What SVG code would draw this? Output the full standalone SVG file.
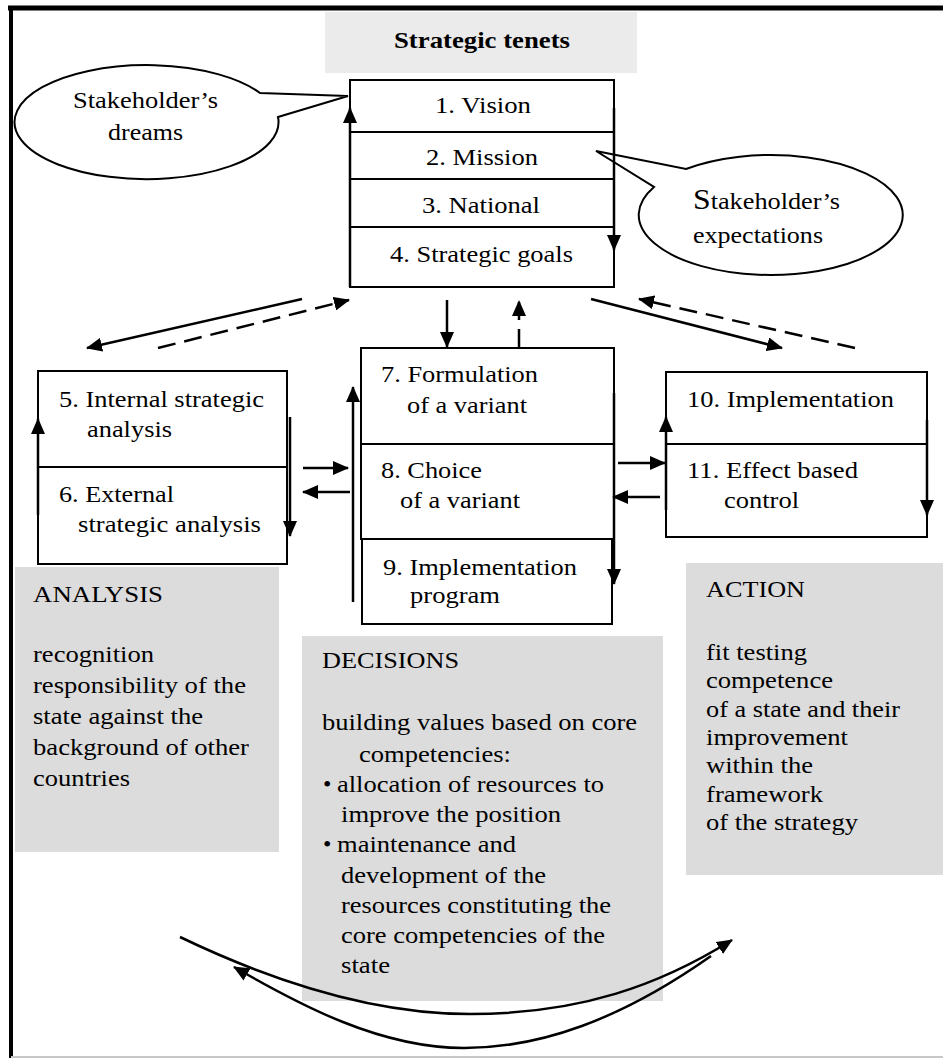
<svg xmlns="http://www.w3.org/2000/svg" width="943" height="1059" viewBox="0 0 943 1059">
<style>
.box{fill:#fff;stroke:#000;stroke-width:2}
.gray{fill:#dcdcdc}
.t{font-family:'Liberation Serif','Times New Roman',serif;font-size:24px;fill:#000}
.b{font-weight:bold;font-size:23px}
.c{fill:none;stroke:#000;stroke-width:2.5}
.d{stroke-dasharray:18 9}
.bubble{fill:#fff;stroke:#000;stroke-width:2}
.ln{stroke:#000;stroke-width:2}
</style>
<defs>
<marker id="ah" markerUnits="userSpaceOnUse" markerWidth="16" markerHeight="14" refX="15" refY="7" orient="auto">
<path d="M0,0 L16,7 L0,14 Z" fill="#000"/>
</marker>
</defs>
<rect width="943" height="1059" fill="#fff"/>
<g id="frame">
<line x1="8" y1="8" x2="943" y2="8" stroke="#000" stroke-width="5"/>
<line x1="11" y1="6" x2="11" y2="1058" stroke="#000" stroke-width="4"/>
<line x1="11" y1="1057" x2="943" y2="1057" stroke="#c8c8c8" stroke-width="2"/>
</g>
<g id="title">
<rect x="325" y="12" width="312" height="61" fill="#ebebeb"/>
<text class="t b" x="394" y="48" textLength="176" lengthAdjust="spacingAndGlyphs">Strategic tenets</text>
</g>
<g id="analysis">
<rect class="gray" x="15" y="567" width="264" height="285"/>
<text class="t" x="33" y="602" textLength="130" lengthAdjust="spacingAndGlyphs">ANALYSIS</text>
<text class="t" x="33" y="662" textLength="121" lengthAdjust="spacingAndGlyphs">recognition</text>
<text class="t" x="33" y="693" textLength="213" lengthAdjust="spacingAndGlyphs">responsibility of the</text>
<text class="t" x="33" y="724" textLength="170" lengthAdjust="spacingAndGlyphs">state against the</text>
<text class="t" x="33" y="755" textLength="216" lengthAdjust="spacingAndGlyphs">background of other</text>
<text class="t" x="33" y="786" textLength="97" lengthAdjust="spacingAndGlyphs">countries</text>
</g>
<g id="decisions">
<rect class="gray" x="302" y="636" width="361" height="365"/>
<text class="t" x="322" y="668" textLength="137" lengthAdjust="spacingAndGlyphs">DECISIONS</text>
<text class="t" x="322" y="730" textLength="315" lengthAdjust="spacingAndGlyphs">building values based on core</text>
<text class="t" x="359" y="762" textLength="152" lengthAdjust="spacingAndGlyphs">competencies:</text>
<text class="t" x="323" y="792">•</text>
<text class="t" x="337" y="792" textLength="267" lengthAdjust="spacingAndGlyphs">allocation of resources to</text>
<text class="t" x="341" y="822" textLength="220" lengthAdjust="spacingAndGlyphs">improve the position</text>
<text class="t" x="323" y="852">•</text>
<text class="t" x="337" y="852" textLength="179" lengthAdjust="spacingAndGlyphs">maintenance and</text>
<text class="t" x="341" y="883" textLength="205" lengthAdjust="spacingAndGlyphs">development of the</text>
<text class="t" x="341" y="913" textLength="270" lengthAdjust="spacingAndGlyphs">resources constituting the</text>
<text class="t" x="341" y="943" textLength="264" lengthAdjust="spacingAndGlyphs">core competencies of the</text>
<text class="t" x="341" y="973" textLength="49" lengthAdjust="spacingAndGlyphs">state</text>
</g>
<g id="action">
<rect class="gray" x="686" y="563" width="257" height="312"/>
<text class="t" x="706" y="597" textLength="99" lengthAdjust="spacingAndGlyphs">ACTION</text>
<text class="t" x="706" y="660" textLength="101" lengthAdjust="spacingAndGlyphs">fit testing</text>
<text class="t" x="706" y="688" textLength="127" lengthAdjust="spacingAndGlyphs">competence</text>
<text class="t" x="706" y="717" textLength="194" lengthAdjust="spacingAndGlyphs">of a state and their</text>
<text class="t" x="706" y="745" textLength="142" lengthAdjust="spacingAndGlyphs">improvement</text>
<text class="t" x="706" y="773" textLength="107" lengthAdjust="spacingAndGlyphs">within the</text>
<text class="t" x="706" y="802" textLength="117" lengthAdjust="spacingAndGlyphs">framework</text>
<text class="t" x="706" y="830" textLength="152" lengthAdjust="spacingAndGlyphs">of the strategy</text>
</g>
<g id="tenets">
<rect class="box" x="350" y="80" width="264" height="207"/>
<line class="ln" x1="350" y1="132" x2="614" y2="132"/>
<line class="ln" x1="350" y1="179" x2="614" y2="179"/>
<line class="ln" x1="350" y1="227" x2="614" y2="227"/>
<text class="t" x="435" y="113" textLength="96" lengthAdjust="spacingAndGlyphs">1. Vision</text>
<text class="t" x="426" y="165" textLength="112" lengthAdjust="spacingAndGlyphs">2. Mission</text>
<text class="t" x="422" y="213" textLength="118" lengthAdjust="spacingAndGlyphs">3. National</text>
<text class="t" x="390" y="262" textLength="183" lengthAdjust="spacingAndGlyphs">4. Strategic goals</text>
</g>
<g id="dreams">
<path class="bubble" d="M278,117 A132,57 0 1 1 260,93 L348,96 Z"/>
<text class="t" x="73" y="108" textLength="145" lengthAdjust="spacingAndGlyphs">Stakeholder’s</text>
<text class="t" x="108" y="140" textLength="75" lengthAdjust="spacingAndGlyphs">dreams</text>
</g>
<g id="expectations">
<path class="bubble" d="M686,169 A132,60 0 1 1 654,187 L596,151 Z"/>
<text class="t" x="693" y="209" textLength="147" lengthAdjust="spacingAndGlyphs"><tspan font-size="29">S</tspan>takeholder’s</text>
<text class="t" x="693" y="243" textLength="130" lengthAdjust="spacingAndGlyphs">expectations</text>
</g>
<g id="analysis-steps">
<rect class="box" x="38" y="371" width="249" height="193"/>
<line class="ln" x1="38" y1="467" x2="287" y2="467"/>
<text class="t" x="59" y="407" textLength="205" lengthAdjust="spacingAndGlyphs">5. Internal strategic</text>
<text class="t" x="87" y="437" textLength="85" lengthAdjust="spacingAndGlyphs">analysis</text>
<text class="t" x="59" y="502" textLength="115" lengthAdjust="spacingAndGlyphs">6. External</text>
<text class="t" x="78" y="532" textLength="183" lengthAdjust="spacingAndGlyphs">strategic analysis</text>
</g>
<g id="decision-steps">
<rect class="box" x="361" y="348" width="253" height="191"/>
<line class="ln" x1="361" y1="444" x2="614" y2="444"/>
<text class="t" x="381" y="382" textLength="157" lengthAdjust="spacingAndGlyphs">7. Formulation</text>
<text class="t" x="407" y="413" textLength="120" lengthAdjust="spacingAndGlyphs">of a variant</text>
<text class="t" x="381" y="478" textLength="101" lengthAdjust="spacingAndGlyphs">8. Choice</text>
<text class="t" x="400" y="508" textLength="120" lengthAdjust="spacingAndGlyphs">of a variant</text>
</g>
<g id="program">
<rect class="box" x="362" y="539" width="250" height="85"/>
<text class="t" x="383" y="575" textLength="194" lengthAdjust="spacingAndGlyphs">9. Implementation</text>
<text class="t" x="410" y="603" textLength="90" lengthAdjust="spacingAndGlyphs">program</text>
</g>
<g id="action-steps">
<rect class="box" x="666" y="372" width="261" height="165"/>
<line class="ln" x1="666" y1="444" x2="927" y2="444"/>
<text class="t" x="687" y="407" textLength="207" lengthAdjust="spacingAndGlyphs">10. Implementation</text>
<text class="t" x="687" y="478" textLength="171" lengthAdjust="spacingAndGlyphs">11. Effect based</text>
<text class="t" x="724" y="508" textLength="75" lengthAdjust="spacingAndGlyphs">control</text>
</g>
<g id="connectors">
<path class="c" d="M350,287 L350,108" marker-end="url(#ah)"/>
<path class="c" d="M614,108 L614,250" marker-end="url(#ah)"/>
<path class="c" d="M38,515 L38,419" marker-end="url(#ah)"/>
<path class="c" d="M290,417 L290,536" marker-end="url(#ah)"/>
<path class="c" d="M303,468 L348,468" marker-end="url(#ah)"/>
<path class="c" d="M350,492 L303,492" marker-end="url(#ah)"/>
<path class="c" d="M302,299 L87,348" marker-end="url(#ah)"/>
<path class="c d" d="M158,348 L349,300" marker-end="url(#ah)"/>
<path class="c" d="M447,300 L447,347" marker-end="url(#ah)"/>
<path class="c d" d="M519,347 L519,301" marker-end="url(#ah)"/>
<path class="c" d="M591,299 L782,348" marker-end="url(#ah)"/>
<path class="c d" d="M855,348 L639,299" marker-end="url(#ah)"/>
<path class="c" d="M353,602 L353,387" marker-end="url(#ah)"/>
<path class="c" d="M614,393 L614,584" marker-end="url(#ah)"/>
<path class="c" d="M618,463 L665,463" marker-end="url(#ah)"/>
<path class="c" d="M660,497 L613,497" marker-end="url(#ah)"/>
<path class="c" d="M666,510 L666,417" marker-end="url(#ah)"/>
<path class="c" d="M927,420 L927,515" marker-end="url(#ah)"/>
<path class="c" d="M180,937 C280,985 380,1014 470,1014 C580,1014 660,985 732,940" marker-end="url(#ah)"/>
<path class="c" d="M711,956 C620,1020 540,1048 464,1048 C380,1048 300,1005 234,967" marker-end="url(#ah)"/>
</g>
</svg>
